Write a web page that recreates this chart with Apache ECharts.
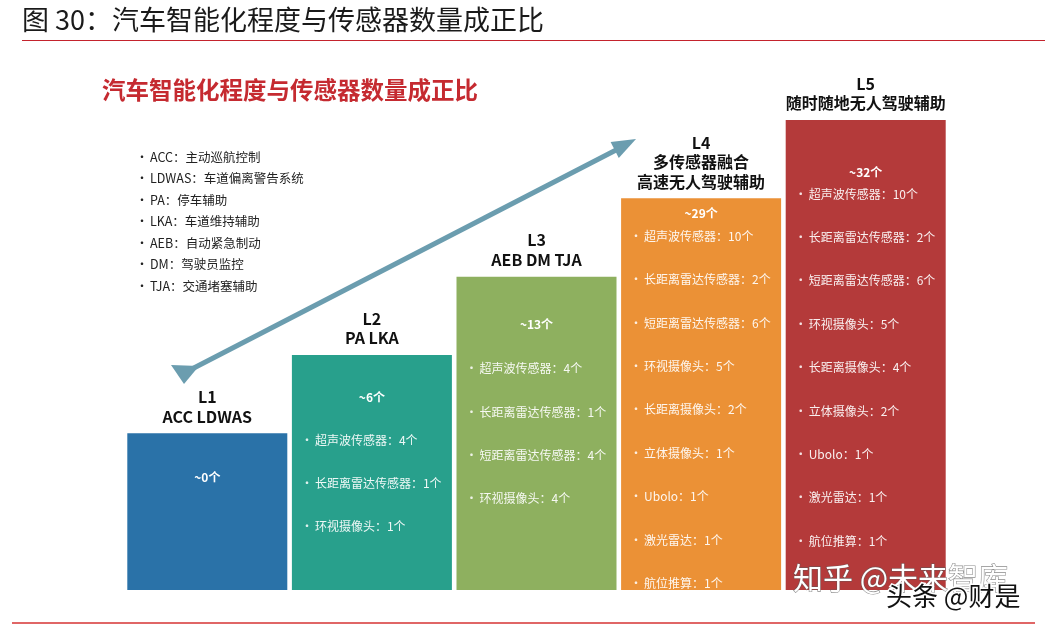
<!DOCTYPE html>
<html>
<head>
<meta charset="utf-8">
<script src="https://cdn.jsdelivr.net/npm/echarts@6/dist/echarts.min.js"></script>
<style>html,body{margin:0;padding:0;background:#fff;}#c{width:1045px;height:625px;}</style>
</head>
<body>
<div id="c"></div>
<script>
// ---- data ----
const levels = ['L1', 'L2', 'L3', 'L4', 'L5'];
const levelNames = ['ACC LDWAS', 'PA LKA', 'AEB DM TJA', '多传感器融合\n高速无人驾驶辅助', '随时随地无人驾驶辅助'];
const stepHeights = [2, 3, 4, 5, 6];
const sensorTotals = ['~0个', '~6个', '~13个', '~29个', '~32个'];
const sensorsL1 = [];
const sensorsL2 = ['超声波传感器：4个', '长距离雷达传感器：1个', '环视摄像头：1个'];
const sensorsL3 = ['超声波传感器：4个', '长距离雷达传感器：1个', '短距离雷达传感器：4个', '环视摄像头：4个'];
const sensorsL4 = ['超声波传感器：10个', '长距离雷达传感器：2个', '短距离雷达传感器：6个', '环视摄像头：5个', '长距离摄像头：2个', '立体摄像头：1个', 'Ubolo：1个', '激光雷达：1个', '航位推算：1个'];
const sensorsL5 = ['超声波传感器：10个', '长距离雷达传感器：2个', '短距离雷达传感器：6个', '环视摄像头：5个', '长距离摄像头：4个', '立体摄像头：2个', 'Ubolo：1个', '激光雷达：1个', '航位推算：1个'];
const glossary = ['ACC：主动巡航控制', 'LDWAS：车道偏离警告系统', 'PA：停车辅助', 'LKA：车道维持辅助', 'AEB：自动紧急制动', 'DM：驾驶员监控', 'TJA：交通堵塞辅助'];
const sensorLists = [sensorsL1, sensorsL2, sensorsL3, sensorsL4, sensorsL5];

// ---- styles / layout ----
const colors = ['#2a72a8', '#28a08c', '#8eb05f', '#eb9136', '#b43a3a'];
const countOffset = [44, 42, 48, 15, 52];
const firstItemOffset = [85, 85, 92, 38, 74];
const itemGap = 43.4;
const FONT = '"Noto Sans CJK SC", "Noto Sans", sans-serif';

const chart = echarts.init(document.getElementById('c'));

function renderItem(params, api) {
  const i = api.value(0);
  const top = api.coord([i, api.value(1)]);
  const base = api.coord([i, 0]);
  const w = 160;
  const x0 = top[0] - w / 2;
  const children = [
    { type: 'rect', shape: { x: x0, y: top[1], width: w, height: base[1] - top[1] }, style: { fill: colors[i] } },
    { type: 'text', style: { x: top[0], y: top[1] - 7, text: levels[i] + '\n' + levelNames[i], align: 'center', verticalAlign: 'bottom',
        font: 'bold 16px ' + FONT, lineHeight: 19.5, fill: '#111' } },
    { type: 'text', style: { x: top[0], y: top[1] + countOffset[i], text: sensorTotals[i], align: 'center', verticalAlign: 'middle',
        font: 'bold 12px ' + FONT, fill: '#fff' } }
  ];
  sensorLists[i].forEach(function (s, j) {
    const y = top[1] + firstItemOffset[i] + j * itemGap;
    children.push({ type: 'text', style: { x: x0 + 9, y: y, text: '•', verticalAlign: 'middle', font: '12px ' + FONT, fill: 'rgba(255,255,255,0.85)' } });
    children.push({ type: 'text', style: { x: x0 + 23, y: y, text: s, verticalAlign: 'middle', font: '12px ' + FONT, fill: 'rgba(255,255,255,0.92)' } });
  });
  return { type: 'group', children: children };
}

const graphics = [
  { type: 'text', x: 22, y: 20, style: { text: '图 30：汽车智能化程度与传感器数量成正比', font: '27px ' + FONT, fill: '#1a1a1a', verticalAlign: 'middle' } },
  { type: 'line', shape: { x1: 22, y1: 40.5, x2: 1045, y2: 40.5 }, style: { stroke: '#c4232d', lineWidth: 1.2 } },
  { type: 'line', shape: { x1: 12, y1: 623, x2: 1035, y2: 623 }, style: { stroke: '#e06666', lineWidth: 2 } },
  { type: 'text', x: 102, y: 90, style: { text: '汽车智能化程度与传感器数量成正比', font: 'bold 23.5px ' + FONT, fill: '#c52a30', verticalAlign: 'middle' } },
  // arrow
  { type: 'line', shape: { x1: 188, y1: 371, x2: 618, y2: 149 }, style: { stroke: '#6b9daf', lineWidth: 5 } },
  { type: 'polygon', shape: { points: [[636, 139], [618.8, 158], [610.6, 142]] }, style: { fill: '#6b9daf' } },
  { type: 'polygon', shape: { points: [[171, 365], [184, 384], [199, 366]] }, style: { fill: '#6b9daf' } }
];
glossary.forEach(function (g, k) {
  const y = 157 + k * 21.5;
  graphics.push({ type: 'text', x: 136, y: y, style: { text: '•', font: '12px ' + FONT, fill: '#222', verticalAlign: 'middle' } });
  graphics.push({ type: 'text', x: 150, y: y, style: { text: g, font: '12.5px ' + FONT, fill: '#222', verticalAlign: 'middle' } });
});
// watermarks
graphics.push({ type: 'text', x: 793, y: 578, z: 100, style: { text: '知乎 @未来智库', font: '30px ' + FONT, fill: '#fff', verticalAlign: 'middle',
  stroke: 'rgba(90,90,90,0.7)', lineWidth: 1.2, shadowColor: 'rgba(0,0,0,0.5)', shadowBlur: 2, shadowOffsetX: 1, shadowOffsetY: 1 } });
graphics.push({ type: 'text', x: 886, y: 596, z: 101, style: { text: '头条 @财是', font: '26px ' + FONT, fill: '#111', stroke: '#fff', lineWidth: 3, verticalAlign: 'middle' } });

chart.setOption({
  animation: false,
  grid: { left: 125, right: 97, top: 120, bottom: 35 },
  xAxis: { type: 'category', data: levels, show: false },
  yAxis: { type: 'value', min: 0, max: 6, show: false },
  graphic: graphics,
  series: [{
    type: 'custom',
    renderItem: renderItem,
    encode: { x: 0, y: 1 },
    data: stepHeights.map(function (h, i) { return [i, h]; })
  }]
});
</script>
</body>
</html>
